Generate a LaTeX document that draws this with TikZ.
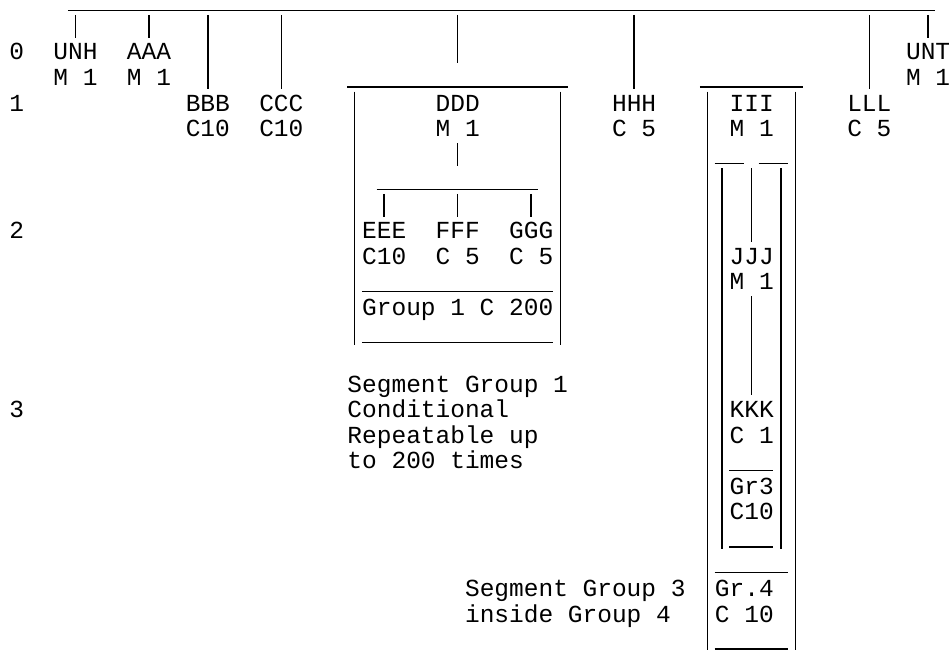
\documentclass[tikz,border=0pt]{standalone}
\usepackage{fontspec}
\newfontfamily\segfont{Liberation Mono}
\begin{document}
\begin{tikzpicture}
  \tikzset{
    seg/.style={anchor=base west, inner sep=0pt, text height=12.47pt, text depth=3.43pt,
      font=\segfont\fontsize{13.94pt}{14.48pt}\selectfont},
    note/.style={anchor=base west, inner sep=0pt, align=left,
      font=\segfont\fontsize{13.94pt}{14.48pt}\selectfont},
    ln/.style={line width=0.85pt},
  }
  \useasboundingbox (0,0) rectangle (18.98,-13);
  \begin{scope}[shift={(0.18,-0.178)}, x=0.294cm, y=-0.511cm]
    % level numbers
    \node[seg] (lv0) at (0,2) {0};
    \node[seg] (lv1) at (0,4) {1};
    \node[seg] (lv2) at (0,9) {2};
    \node[seg] (lv3) at (0,16) {3};
    % segments
    \node[seg] (unh) at (3,2) {UNH};  \node[seg] (unhst) at (3,3) {M 1};
    \node[seg] (aaa) at (8,2) {AAA};  \node[seg] (aaast) at (8,3) {M 1};
    \node[seg] (bbb) at (12,4) {BBB}; \node[seg] (bbbst) at (12,5) {C10};
    \node[seg] (ccc) at (17,4) {CCC}; \node[seg] (cccst) at (17,5) {C10};
    \node[seg] (ddd) at (29,4) {DDD}; \node[seg] (dddst) at (29,5) {M 1};
    \node[seg] (hhh) at (41,4) {HHH}; \node[seg] (hhhst) at (41,5) {C 5};
    \node[seg] (iii) at (49,4) {III}; \node[seg] (iiist) at (49,5) {M 1};
    \node[seg] (lll) at (57,4) {LLL}; \node[seg] (lllst) at (57,5) {C 5};
    \node[seg] (unt) at (61,2) {UNT}; \node[seg] (untst) at (61,3) {M 1};
    \node[seg] (eee) at (24,9) {EEE}; \node[seg] (eeest) at (24,10) {C10};
    \node[seg] (fff) at (29,9) {FFF}; \node[seg] (fffst) at (29,10) {C 5};
    \node[seg] (ggg) at (34,9) {GGG}; \node[seg] (gggst) at (34,10) {C 5};
    \node[seg] (grp1) at (24,12) {Group 1 C 200};
    \node[seg] (jjj) at (49,10) {JJJ}; \node[seg] (jjjst) at (49,11) {M 1};
    \node[seg] (kkk) at (49,16) {KKK}; \node[seg] (kkkst) at (49,17) {C 1};
    \node[seg] (grp3) at (49,19) {Gr3}; \node[seg] (grp3st) at (49,20) {C10};
    \node[seg] (grp4) at (48,23) {Gr.4}; \node[seg] (grp4st) at (48,24) {C 10};
    % notes (base is the last line)
    \node[note] (sg1note) at (23,18) {Segment Group 1\\Conditional\\Repeatable up\\to 200 times};
    \node[note] (sg3note) at (31,24) {Segment Group 3\\inside Group 4};
    % top level
    \coordinate (top) at (0,0.237);
    \coordinate (barw) at (4,0.06);
    \coordinate (bare) at (63,0.06);
    \coordinate (row2end) at (0,2.137);
    \draw[ln] (barw) -- (bare);
    \foreach \s in {unh,aaa,bbb,ccc,hhh,lll,unt}
      \draw[ln] (\s.north |- top) -- (\s.north);
    \draw[ln] (ddd.north |- top) -- (ddd.north |- row2end);
    % group 1
    \draw[ln] (23,3.06) -- (38,3.06);
    \draw[ln] (23.5,3.237) -- (23.5,13.137);
    \draw[ln] (37.5,3.237) -- (37.5,13.137);
    \draw[ln] (24,11.06) -- (37,11.06);
    \draw[ln] (24,13.06) -- (37,13.06);
    \coordinate (row6end) at (0,6.137);
    \coordinate (row8top) at (0,7.237);
    \draw[ln] (dddst.south) -- (dddst.south |- row6end);
    \draw[ln] (25,7.06) -- (36,7.06);
    \foreach \s in {eee,fff,ggg}
      \draw[ln] (\s.north |- row8top) -- (\s.north);
    % group 4 with group 3 inside
    \draw[ln] (47,3.06) -- (54,3.06);
    \draw[ln] (47.5,3.237) -- (47.5,25.137);
    \draw[ln] (53.5,3.237) -- (53.5,25.137);
    \draw[ln] (48,6.06) -- (50,6.06) (51,6.06) -- (53,6.06);
    \draw[ln] (48.5,6.237) -- (48.5,21.137);
    \draw[ln] (52.5,6.237) -- (52.5,21.137);
    \draw[ln] (49,18.06) -- (52,18.06);
    \draw[ln] (49,21.06) -- (52,21.06);
    \draw[ln] (48,22.06) -- (53,22.06);
    \draw[ln] (48,25.06) -- (53,25.06);
    \coordinate (row7top) at (0,6.237);
    \draw[ln] (jjj.north |- row7top) -- (jjj.north);
    \draw[ln] (jjjst.south) -- (kkk.north);
  \end{scope}
\end{tikzpicture}
\end{document}
